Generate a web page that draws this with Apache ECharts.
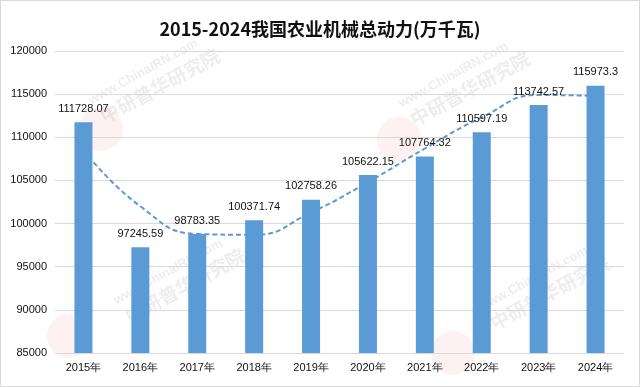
<!DOCTYPE html>
<html>
<head>
<meta charset="utf-8">
<script src="https://cdn.jsdelivr.net/npm/echarts@6/dist/echarts.min.js"></script>
<style>
html,body{margin:0;padding:0;background:#fff;}
#wrap{position:absolute;left:0;top:0;width:638px;height:385px;border:1px solid #d9d9d9;}
#chart{width:638px;height:385px;}
</style>
</head>
<body>
<div id="wrap"><div id="chart"></div></div>
<script>
const titleText = '2015-2024我国农业机械总动力(万千瓦)';
const categories = ['2015年','2016年','2017年','2018年','2019年','2020年','2021年','2022年','2023年','2024年'];
const values = [111728.07, 97245.59, 98783.35, 100371.74, 102758.26, 105622.15, 107764.32, 110597.19, 113742.57, 115973.3];
// trendline values
const trendValues = [108500, 102000, 98800, 98700, 101300, 104800, 108700, 112300, 114900, 114800];
const yTicks = [85000, 90000, 95000, 100000, 105000, 110000, 115000, 120000];
const watermarkWeb = 'www.ChinaIRN.com';
const watermarkName = '中研普华研究院';

function watermark(cx, cy, x, y){
  return [
    {type:'circle', z:0, silent:true, shape:{cx:cx, cy:cy, r:22},
      style:{fill:'rgba(235,120,120,0.10)'}},
    {type:'group', x:x, y:y, rotation:0.5, z:0, silent:true, children:[
      {type:'text', x:0, y:-16, style:{text:watermarkWeb, font:'bold 13px "Liberation Sans", sans-serif',
        fill:'rgba(190,190,190,0.28)', textAlign:'center', textVerticalAlign:'middle'}},
      {type:'text', x:8, y:4, style:{text:watermarkName, font:'bold 19px "Noto Sans CJK SC", sans-serif',
        fill:'rgba(190,190,190,0.28)', textAlign:'center', textVerticalAlign:'middle'}}
    ]}
  ];
}

const chart = echarts.init(document.getElementById('chart'), null, {renderer:'canvas'});
const font = '"Liberation Sans", Arial, sans-serif';
chart.setOption({
  animation:false,
  backgroundColor:'#ffffff',
  title:{
    text:titleText, left:'center', top:14,
    textStyle:{fontFamily:'"Noto Sans CJK SC", sans-serif', fontWeight:'bold', fontSize:18, color:'#111'}
  },
  graphic:[].concat(
    watermark(100,128,150,85),
    watermark(398,138,460,88),
    watermark(68,335,175,285),
    watermark(452,352,540,292)
  ),
  grid:{left:54, right:15, top:50, bottom:33, containLabel:false},
  xAxis:{
    type:'category', data:categories,
    axisLine:{lineStyle:{color:'#d9d9d9'}},
    axisTick:{show:false},
    axisLabel:{fontFamily:font, fontSize:11, color:'#111', margin:9}
  },
  yAxis:{
    type:'value', min:yTicks[0], max:yTicks[yTicks.length-1], interval:5000,
    axisLine:{show:false}, axisTick:{show:false},
    splitLine:{lineStyle:{color:'#d9d9d9'}},
    axisLabel:{fontFamily:font, fontSize:11, color:'#111', margin:8, formatter:(v)=>String(v)}
  },
  series:[
    {
      type:'line', data:trendValues, smooth:0.5, symbol:'none', z:1,
      lineStyle:{color:'#5b9bd5', width:2, type:[5,3]}
    },
    {
      type:'bar', data:values, barWidth:18, z:2,
      itemStyle:{color:'#5b9bd5'},
      label:{show:true, position:'top', distance:8, fontFamily:font, fontSize:11, color:'#111',
        formatter:(p)=>String(values[p.dataIndex])}
    }
  ]
});
</script>
</body>
</html>
